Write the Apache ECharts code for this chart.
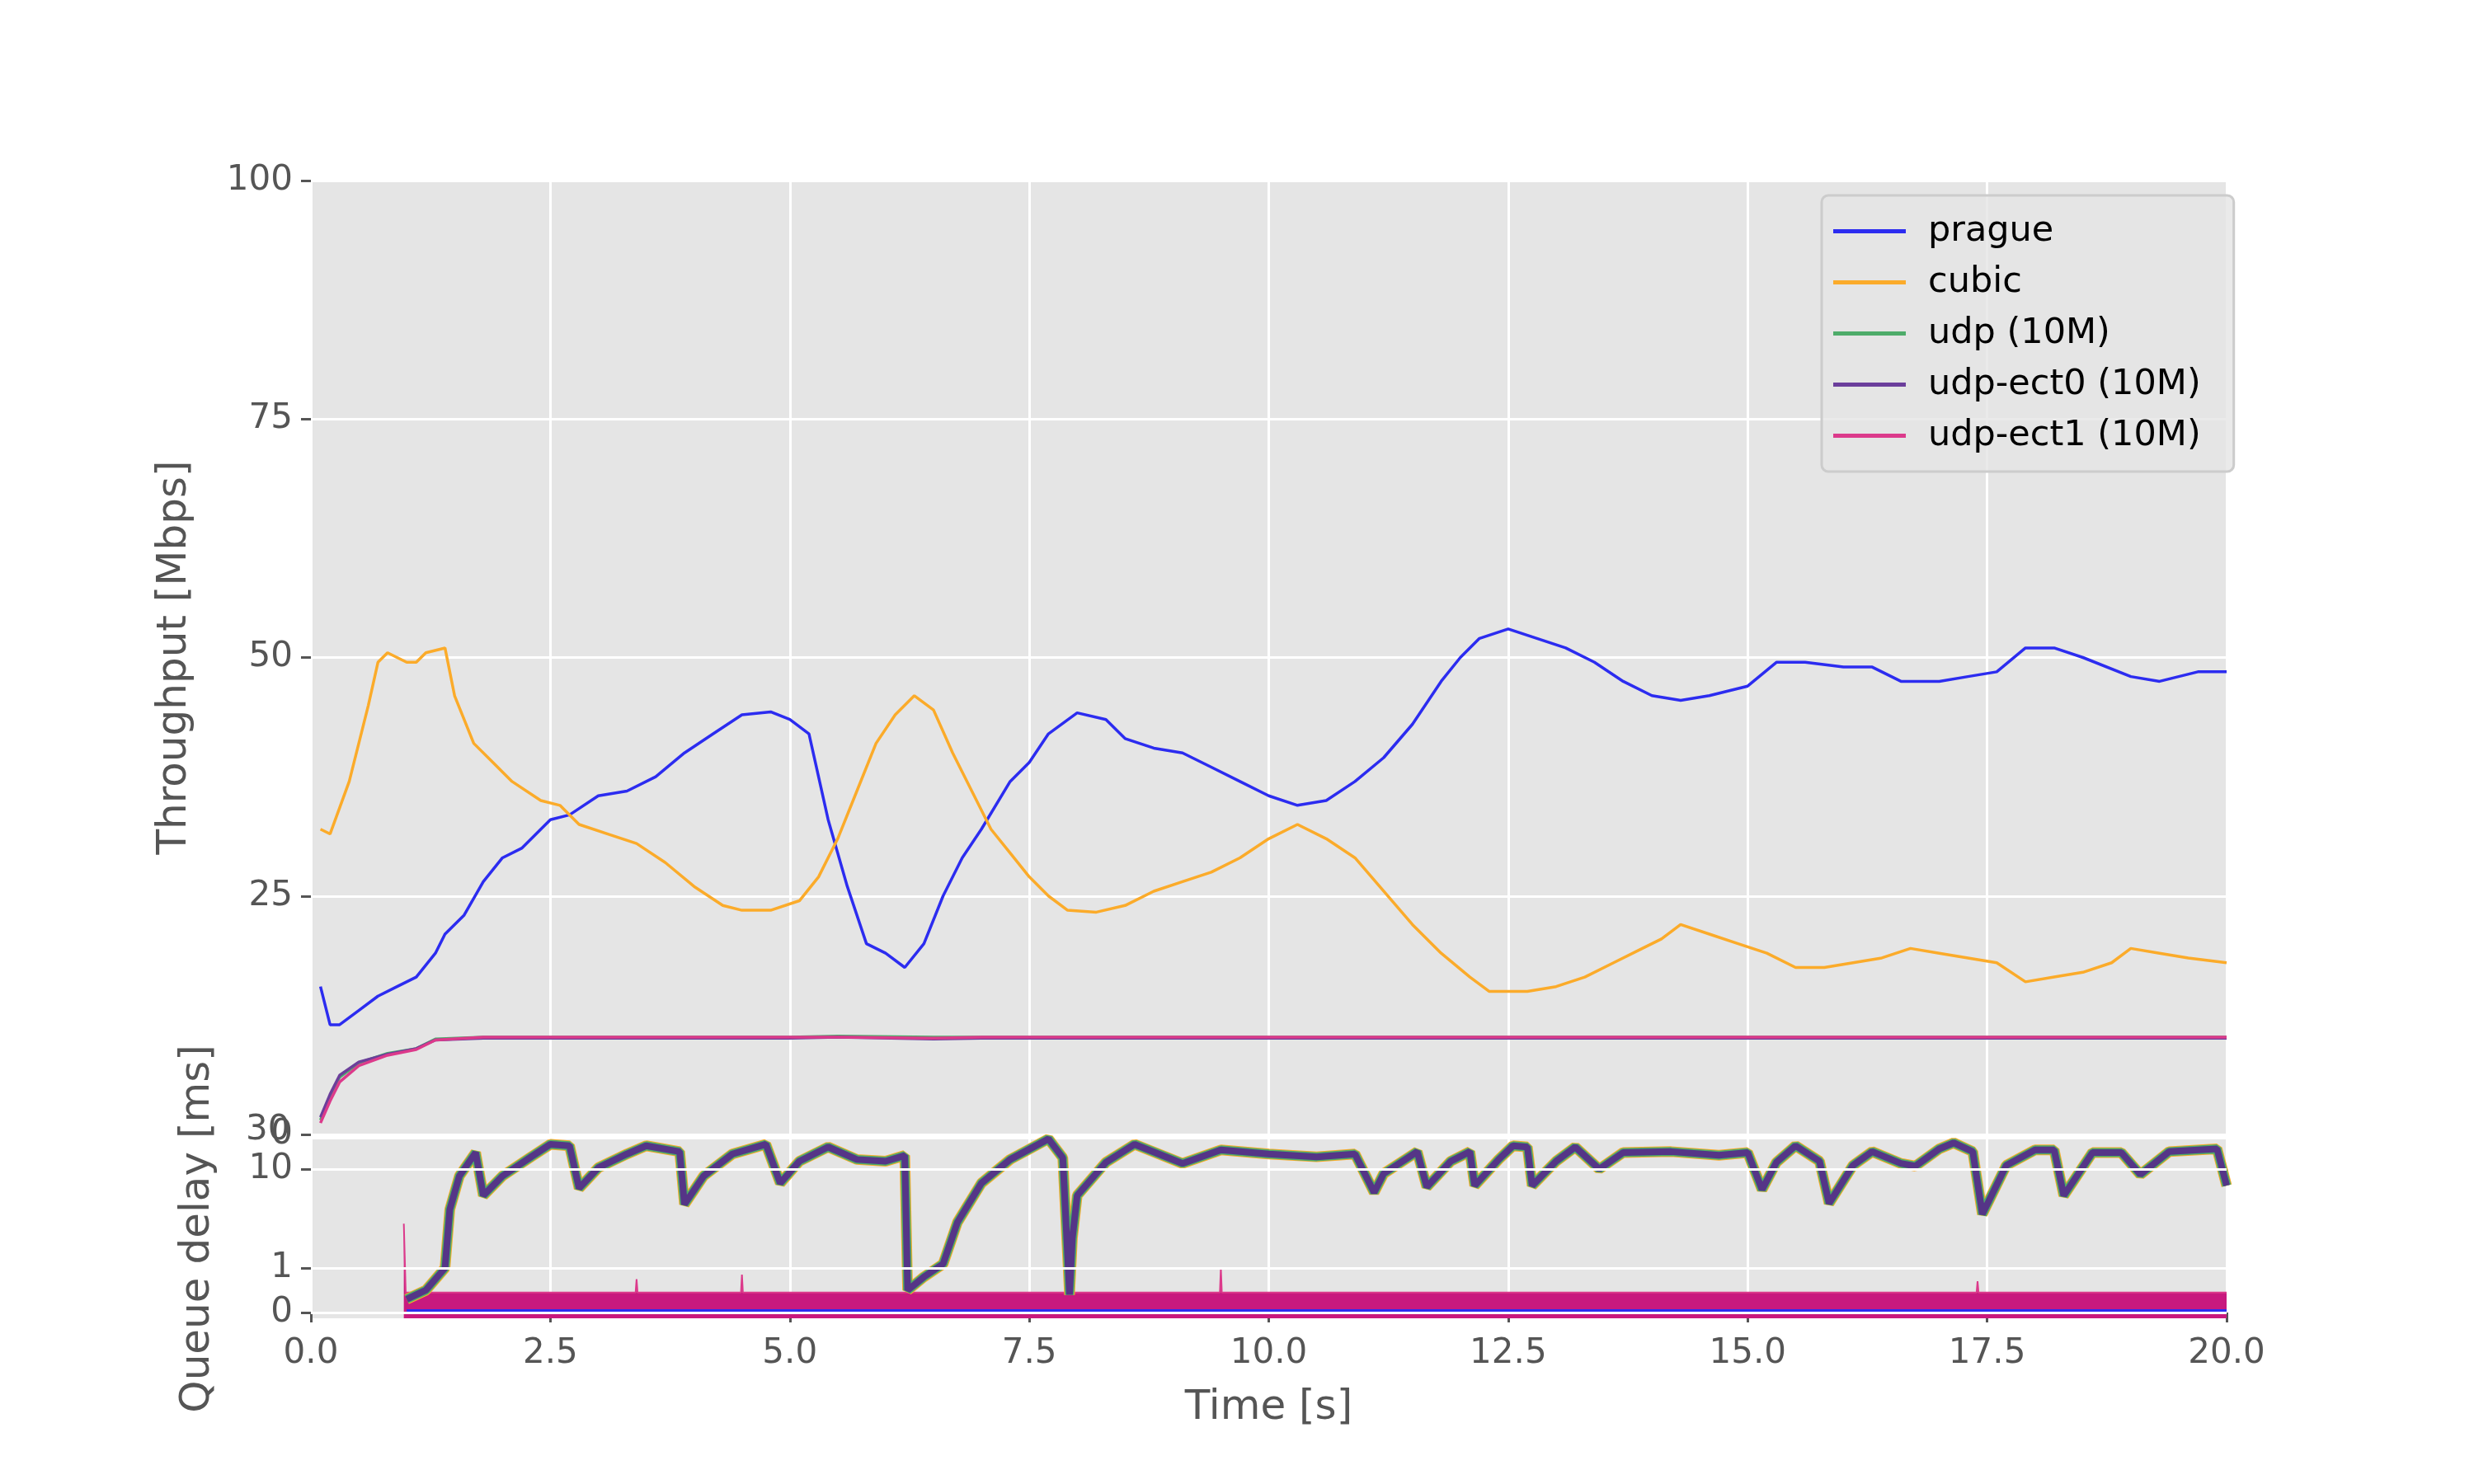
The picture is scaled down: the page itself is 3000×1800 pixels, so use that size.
<!DOCTYPE html>
<html><head><meta charset="utf-8">
<script src="https://cdn.jsdelivr.net/npm/echarts@6/dist/echarts.min.js"></script>
<style>html,body{margin:0;background:#fff}#c{width:3000px;height:1800px}</style>
</head><body><div id="c"></div>
<script>
const pragueT=[0.1,0.2,0.3,0.5,0.7,0.9,1.1,1.3,1.4,1.6,1.8,2.0,2.2,2.5,2.7,3.0,3.3,3.6,3.9,4.2,4.5,4.8,5.0,5.2,5.4,5.6,5.8,6.0,6.2,6.4,6.6,6.8,7.0,7.3,7.5,7.7,8.0,8.3,8.5,8.8,9.1,9.4,9.7,10.0,10.3,10.6,10.9,11.2,11.5,11.8,12.0,12.2,12.5,12.8,13.1,13.4,13.7,14.0,14.3,14.6,15.0,15.3,15.6,16.0,16.3,16.6,17.0,17.3,17.6,17.9,18.2,18.5,19.0,19.3,19.7,20.0];
const pragueV=[15.5,11.5,11.5,13,14.5,15.5,16.5,19,21,23,26.5,29,30,33,33.5,35.5,36,37.5,40,42,44,44.3,43.5,42,33,26,20,19,17.5,20,25,29,32,37,39,42,44.2,43.5,41.5,40.5,40,38.5,37,35.5,34.5,35,37,39.5,43,47.5,50,52,53,52,51,49.5,47.5,46,45.5,46,47,49.5,49.5,49,49,47.5,47.5,48,48.5,51,51,50,48,47.5,48.5,48.5];
const cubicT=[0.1,0.2,0.4,0.6,0.7,0.8,1.0,1.1,1.2,1.4,1.5,1.7,1.9,2.1,2.4,2.6,2.8,3.1,3.4,3.7,4.0,4.3,4.5,4.8,5.1,5.3,5.5,5.7,5.9,6.1,6.3,6.5,6.7,6.9,7.1,7.3,7.5,7.7,7.9,8.2,8.5,8.8,9.1,9.4,9.7,10.0,10.3,10.6,10.9,11.2,11.5,11.8,12.1,12.3,12.7,13.0,13.3,13.6,13.9,14.1,14.3,14.6,14.9,15.2,15.5,15.8,16.1,16.4,16.7,17.0,17.3,17.6,17.9,18.2,18.5,18.8,19.0,19.3,19.6,20.0];
const cubicV=[32,31.5,37,45,49.5,50.5,49.5,49.5,50.5,51,46,41,39,37,35,34.5,32.5,31.5,30.5,28.5,26,24,23.5,23.5,24.5,27,31,36,41,44,46,44.5,40,36,32,29.5,27,25,23.5,23.3,24,25.5,26.5,27.5,29,31,32.5,31,29,25.5,22,19,16.5,15,15,15.5,16.5,18,19.5,20.5,22,21,20,19,17.5,17.5,18,18.5,19.5,19,18.5,18,16,16.5,17,18,19.5,19,18.5,18];
const udpT=[0.1,0.2,0.3,0.5,0.8,1.1,1.3,1.8,3,5,5.5,6.5,7,10,15,20];
const udpV=[1.5,4,6,7.5,8.5,9,10,10.2,10.2,10.2,10.3,10.2,10.2,10.2,10.2,10.2];
const ect0V=[1.8,4.2,6.2,7.6,8.4,9,9.9,10.1,10.1,10.1,10.2,10,10.1,10.1,10.1,10.1];
const ect1V=[1.2,3.5,5.5,7.2,8.3,8.9,9.9,10.2,10.2,10.2,10.2,10.1,10.2,10.2,10.2,10.2];
// classic queue delay (ms)
const qT=[1.0,1.2,1.4,1.45,1.55,1.72,1.8,2.0,2.3,2.5,2.7,2.8,3.0,3.3,3.5,3.85,3.9,4.1,4.4,4.75,4.9,5.1,5.4,5.7,6.0,6.2,6.23,6.4,6.6,6.75,7.0,7.3,7.7,7.85,7.92,7.95,8.0,8.3,8.6,9.1,9.5,10.0,10.5,10.9,11.1,11.2,11.55,11.65,11.9,12.1,12.15,12.4,12.55,12.7,12.75,13.0,13.2,13.45,13.7,14.2,14.7,15.0,15.15,15.3,15.5,15.75,15.85,16.1,16.3,16.6,16.75,17.0,17.15,17.35,17.45,17.7,18.0,18.2,18.3,18.6,18.9,19.1,19.4,19.9,20.0];
const qV=[0.3,0.5,1.0,3.9,8.5,14.7,5.4,8.5,13.3,17.8,17.2,6.4,10.3,14.2,17.2,15,4.4,8.5,14.2,17.8,7.2,12,16.7,12.5,12,13.7,0.5,0.8,1.1,2.9,7.2,12.5,20.2,13,0.4,2,5.4,11.7,17.8,11.4,15.6,14.2,13.3,14.2,5.8,9,15,6.6,12,15,6.8,12.5,17.2,16.7,6.8,12,16.7,10,14.7,15,13.8,14.7,6.2,11.7,17.2,12,4.5,10.9,15,11.4,10.7,16,18.4,15,3.5,10.9,15.6,15.6,5.4,14.7,14.7,8.8,15,16,6.8];
// low-latency queue band top (ms)
const llT=[0.97,0.99,1.0,1.05,3.39,3.4,3.41,4.49,4.5,4.51,9.49,9.5,9.51,17.39,17.4,17.41,20.0];
const llTop=[2.8,0.45,0.45,0.45,0.45,0.75,0.45,0.45,0.85,0.45,0.45,1.0,0.45,0.45,0.7,0.45,0.45];
const xTicks=[0,2.5,5,7.5,10,12.5,15,17.5,20];
const qTicks=[0,1,10];

const K=120/54;
const tr=v=>v<=1?v:1+K*Math.log10(v);
const inv=u=>u<=1?u:Math.pow(10,(u-1)/K);
const pair=(T,V)=>T.map((t,i)=>[t,V[i]]);
const C={prague:'#2c2cf0',cubic:'#fbab2a',udp:'#4eac6a',ect0:'#6b3e9b',ect1:'#dc3a8b'};
const font='DejaVu Sans';
const axisTxt={color:'#555',fontSize:42,fontFamily:font};
const ch=echarts.init(document.getElementById('c'));
const line=(name,data,color,w,extra)=>Object.assign({name,type:'line',data,showSymbol:false,symbol:'none',lineStyle:{color,width:w},itemStyle:{color},animation:false},extra||{});
ch.setOption({
 animation:false,
 textStyle:{fontFamily:font},
 grid:[{left:377,right:300,top:219,height:1157,show:true,backgroundColor:'#e5e5e5',borderWidth:0},
       {left:377,right:300,top:1382,height:217,show:true,backgroundColor:'#e5e5e5',borderWidth:0}],
 xAxis:[{gridIndex:0,type:'value',min:0,max:20,interval:2.5,axisLine:{show:false},axisTick:{show:false},axisLabel:{show:false},splitLine:{lineStyle:{color:'#fff',width:3}}},
        {gridIndex:1,type:'value',min:0,max:20,interval:2.5,axisLine:{show:false},axisTick:{show:true,length:12,lineStyle:{color:'#555',width:3}},axisLabel:Object.assign({formatter:v=>v.toFixed(1),margin:22},axisTxt),splitLine:{lineStyle:{color:'#fff',width:3}},
         name:'Time [s]',nameLocation:'middle',nameGap:84,nameTextStyle:{color:'#555',fontSize:50,fontFamily:font}}],
 yAxis:[{gridIndex:0,type:'value',min:0,max:100,interval:25,axisLine:{show:false},axisTick:{show:true,length:12,lineStyle:{color:'#555',width:3}},axisLabel:Object.assign({margin:22},axisTxt),splitLine:{lineStyle:{color:'#fff',width:3}},
         name:'Throughput [Mbps]',nameLocation:'middle',nameGap:140,nameTextStyle:{color:'#555',fontSize:50,fontFamily:font}},
        {gridIndex:1,type:'value',min:-0.13,max:(1592-1382)/54,axisLine:{show:false},splitLine:{show:false},
         axisTick:{show:true,length:12,customValues:qTicks.map(tr),lineStyle:{color:'#555',width:3}},
         axisLabel:Object.assign({customValues:qTicks.map(tr),margin:22,formatter:u=>String(Math.round(inv(u)))},axisTxt),
         name:'Queue delay [ms]',nameLocation:'middle',nameGap:112,nameTextStyle:{color:'#555',fontSize:50,fontFamily:font}}],
 legend:{data:['prague','cubic','udp (10M)','udp-ect0 (10M)','udp-ect1 (10M)'],orient:'vertical',left:2209,top:237,width:470,
   padding:[22,40,22,14],itemGap:19,itemWidth:88,itemHeight:5,icon:'rect',backgroundColor:'rgba(229,229,229,0.8)',borderColor:'#cccccc',borderWidth:3,borderRadius:8,
   textStyle:{fontSize:43,color:'#000',fontFamily:font,padding:[0,0,0,22]}},
 graphic:[{type:'text',left:298,top:1350,style:{text:'30',fill:'#555',font:'42px "DejaVu Sans"'}}],
 series:[
  line('prague',pair(pragueT,pragueV),C.prague,3.5),
  line('cubic',pair(cubicT,cubicV),C.cubic,3.5),
  line('udp (10M)',pair(udpT,udpV),C.udp,3.5),
  line('udp-ect0 (10M)',pair(udpT,ect0V),C.ect0,3.5),
  line('udp-ect1 (10M)',pair(udpT,ect1V),C.ect1,3.5),
  line('gridq',[],'#fff',0,{xAxisIndex:1,yAxisIndex:1,markLine:{silent:true,symbol:'none',label:{show:false},lineStyle:{color:'#fff',width:3,type:'solid'},data:qTicks.map(v=>({yAxis:tr(v)}))}}),
  line('llband',pair(llT,llTop.map(tr)),C.ect1,2,{xAxisIndex:1,yAxisIndex:1,areaStyle:{color:'#c8197e',opacity:1,origin:'start'},lineStyle:{color:'#dc3a8b',width:2}}),
  line('llblue',pair([1.0,20],[0.02,0.02]),C.prague,6,{xAxisIndex:1,yAxisIndex:1}),
  line('qc',pair(qT,qV.map(tr)),C.cubic,13,{xAxisIndex:1,yAxisIndex:1}),
  line('qu',pair(qT,qV.map(tr)),C.udp,11,{xAxisIndex:1,yAxisIndex:1}),
  line('qe',pair(qT,qV.map(tr)),'#553587',8,{xAxisIndex:1,yAxisIndex:1})
 ]
});
</script></body></html>
